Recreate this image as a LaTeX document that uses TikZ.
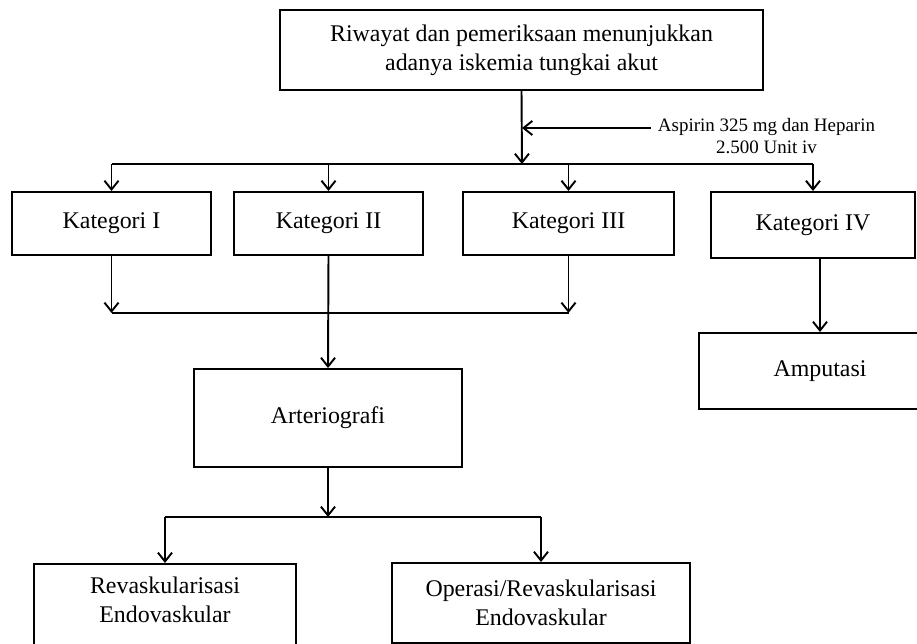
\documentclass[tikz,border=0pt]{standalone}
\usepackage{fontspec}
\setmainfont{Liberation Serif}
\usetikzlibrary{arrows.meta}
\tikzset{kotak/.style={draw,line width=1.1pt,align=center,inner sep=0pt,
    font=\fontsize{13.6}{16.5}\selectfont}}
\tikzset{garis/.style={line width=1.1pt}}
\tikzset{panah/.style={garis,-{Straight Barb[length=5pt,width=8pt]}}}

\begin{document}
\begin{tikzpicture}[x=0.02cm,y=-0.02cm]
  \useasboundingbox (0,0) rectangle (917,644);

  \node [kotak,minimum width=9.66cm,minimum height=1.6cm] (riwayat) at (521.5,50)
    {Riwayat dan pemeriksaan menunjukkan\\adanya iskemia tungkai akut};
  \node [align=center,inner sep=4pt,font=\fontsize{10.8}{12.5}\selectfont] (aspirin) at (766.5,136)
    {Aspirin 325 mg dan Heparin\\2.500 Unit iv};

  \node [kotak,minimum width=3.98cm,minimum height=1.26cm] (kat1) at (111.5,223.5) {Kategori I};
  \node [kotak,minimum width=3.78cm,minimum height=1.26cm] (kat2) at (328.5,223.5) {Kategori II};
  \node [kotak,minimum width=4.22cm,minimum height=1.26cm] (kat3) at (568.5,223.5) {Kategori III};
  \node [kotak,minimum width=4.08cm,minimum height=1.32cm] (kat4) at (813,225) {Kategori IV};

  \node [kotak,minimum width=5.36cm,minimum height=1.96cm] (arterio) at (328,418) {Arteriografi};
  \node [kotak,minimum width=4.84cm,minimum height=1.52cm] (amputasi) at (820,371) {Amputasi};

  \node [kotak,anchor=north,minimum width=5.24cm,inner ysep=7.6pt,text depth=10pt] (revask) at (165,563)
    {Revaskularisasi\\Endovaskular};
  \node [kotak,minimum width=5.96cm,minimum height=1.6cm] (operasi) at (541,603)
    {Operasi/Revaskularisasi\\Endovaskular};

  \coordinate (obat)   at (522,128);
  \coordinate (bagi)   at (522,164);
  \coordinate (gabung) at (328,313);
  \coordinate (cabang) at (328,517);

  \draw [panah] (riwayat.south) -- (bagi);
  \draw [panah] (aspirin.west |- obat) -- (obat);
  \draw [garis] (kat1.north |- bagi) -- (kat4.north |- bagi);
  \draw [panah] (kat1.north |- bagi) -- (kat1.north);
  \draw [panah] (kat2.north |- bagi) -- (kat2.north);
  \draw [panah] (kat3.north |- bagi) -- (kat3.north);
  \draw [panah] (kat4.north |- bagi) -- (kat4.north);

  \draw [panah] (kat1.south) -- (kat1.south |- gabung);
  \draw [panah] (kat3.south) -- (kat3.south |- gabung);
  \draw [garis] (kat1.south |- gabung) -- (kat3.south |- gabung);
  \draw [panah] (kat2.south) -- (arterio.north);
  \draw [panah] (kat4.south -| amputasi.north) -- (amputasi.north);

  \draw [panah] (arterio.south) -- (cabang);
  \draw [garis] (revask.north |- cabang) -- (operasi.north |- cabang);
  \draw [panah] (revask.north |- cabang) -- (revask.north);
  \draw [panah] (operasi.north |- cabang) -- (operasi.north);
\end{tikzpicture}
\end{document}
